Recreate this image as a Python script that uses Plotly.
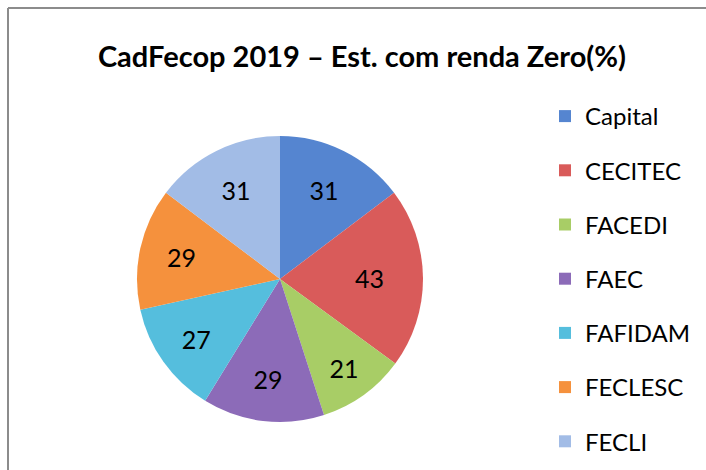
import plotly.graph_objects as go

# data
labels = ["Capital", "CECITEC", "FACEDI", "FAEC", "FAFIDAM", "FECLESC", "FECLI"]
values = [31, 43, 21, 29, 27, 29, 31]
colors = ["#5585d0", "#d95b5a", "#a8cd66", "#8c6bb8", "#55bedd", "#f5913d", "#a2bce6"]

title_text = "CadFecop 2019 – Est. com renda Zero(%)"
font_family = "Lato, 'Open Sans', sans-serif"

W, H = 706, 470

fig = go.Figure()

fig.add_trace(go.Pie(
    labels=labels,
    values=values,
    sort=False,
    direction="clockwise",
    rotation=0,
    marker=dict(colors=colors, line=dict(width=0)),
    textinfo="value",
    textposition="inside",
    insidetextorientation="horizontal",
    textfont=dict(size=25, color="black", family=font_family),
    showlegend=False,
    domain=dict(x=[137 / W, 423 / W], y=[1 - 422 / H, 1 - 136 / H]),
    hoverinfo="label+value",
))

# legend entries (pie legend spacing can't be widened, so use one group per entry)
for lab, col in zip(labels, colors):
    fig.add_trace(go.Scatter(
        x=[None], y=[None],
        mode="markers",
        name=lab,
        legendgroup=lab,
        marker=dict(symbol="square", size=13, color=col),
        hoverinfo="skip",
    ))

# chart frame: only the top and left edges are inside the screenshot
fig.add_shape(type="line", xref="paper", yref="paper",
              x0=8 / W, x1=1, y0=1 - 8 / H, y1=1 - 8 / H,
              line=dict(color="#8c8c8c", width=2))
fig.add_shape(type="line", xref="paper", yref="paper",
              x0=8 / W, x1=8 / W, y0=0, y1=1 - 8 / H,
              line=dict(color="#8c8c8c", width=2))

fig.update_layout(
    width=W,
    height=H,
    margin=dict(l=0, r=0, t=0, b=0),
    paper_bgcolor="white",
    plot_bgcolor="white",
    font=dict(family=font_family, color="black"),
    title=dict(
        text=f"<b>{title_text}</b>",
        x=362 / W, xanchor="center",
        y=1 - 57 / H, yanchor="middle",
        font=dict(size=29, family=font_family, color="black"),
    ),
    xaxis=dict(visible=False),
    yaxis=dict(visible=False),
    legend=dict(
        x=545 / W, xanchor="left",
        y=1 - 94 / H, yanchor="top",
        font=dict(size=24, family=font_family, color="black"),
        tracegroupgap=20,
        bgcolor="rgba(0,0,0,0)",
        itemsizing="constant",
    ),
)

# drop the default body margin so the figure sits at the window origin
fig.write_html(
    "out.html",
    config={"displayModeBar": False},
    post_script="document.body.style.margin='0';",
)
